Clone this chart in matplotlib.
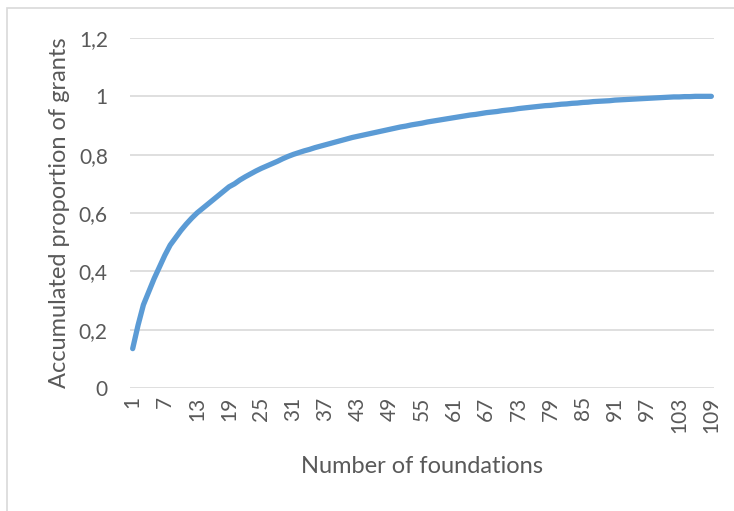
import matplotlib
matplotlib.use("Agg")
import matplotlib.pyplot as plt
from matplotlib.patches import Rectangle
from matplotlib.ticker import FuncFormatter

plt.rcParams['font.family'] = ['Lato', 'DejaVu Sans']

# foundations ranked by size, cumulative share of all grants
foundations = list(range(1, 110))
share = [0.135, 0.215, 0.285, 0.33, 0.375, 0.415, 0.455, 0.49, 0.515, 0.54,
         0.562, 0.582, 0.60, 0.615, 0.63, 0.645, 0.66, 0.675, 0.69, 0.70,
         0.713, 0.724, 0.734, 0.744, 0.753, 0.761, 0.769, 0.777, 0.786, 0.794,
         0.801, 0.807, 0.813, 0.818, 0.824, 0.829, 0.834, 0.839, 0.844, 0.849,
         0.854, 0.859, 0.863, 0.867, 0.871, 0.875, 0.879, 0.883, 0.887, 0.891,
         0.895, 0.898, 0.902, 0.905, 0.908, 0.912, 0.915, 0.918, 0.921, 0.924,
         0.927, 0.930, 0.933, 0.936, 0.938, 0.941, 0.944, 0.946, 0.948, 0.951,
         0.953, 0.955, 0.958, 0.960, 0.962, 0.964, 0.966, 0.968, 0.969, 0.971,
         0.973, 0.974, 0.976, 0.977, 0.979, 0.980, 0.982, 0.983, 0.984, 0.985,
         0.987, 0.988, 0.989, 0.990, 0.991, 0.992, 0.993, 0.994, 0.995, 0.996,
         0.997, 0.998, 0.998, 0.999, 0.999, 1.0, 1.0, 1.0, 1.0]
tick_labels = foundations[::6]
y_ticks = [0, 0.2, 0.4, 0.6, 0.8, 1.0, 1.2]

text_col = '#595959'
grid_col = '#D9D9D9'

fig = plt.figure(figsize=(7.34, 5.11), dpi=100)
ax = fig.add_axes([130/734, 1 - 388/511, 584/734, 350/511])

# chart area border
fig.patches.append(Rectangle((7/734, -0.1), 1.1, 1 - 8/511 + 0.1,
                             transform=fig.transFigure, fill=False,
                             edgecolor=grid_col, linewidth=1.2))

ax.plot(foundations, share, color='#5B9BD5', linewidth=3.8,
        solid_capstyle='round', solid_joinstyle='round', zorder=3)

ax.set_xlim(0.5, 109.5)
ax.set_ylim(0, 1.2)
ax.set_yticks(y_ticks)
ax.yaxis.set_major_formatter(FuncFormatter(
    lambda v, p: '0' if v == 0 else ('1' if abs(v - 1) < 1e-9 else f'{v:.1f}'.replace('.', ','))))
ax.set_xticks(tick_labels)
ax.set_xticklabels([str(t) for t in tick_labels], rotation=90)

ax.grid(axis='y', color=grid_col, linewidth=1.2)
ax.set_axisbelow(True)
for s in ax.spines.values():
    s.set_visible(False)
ax.tick_params(length=0, colors=text_col, labelsize=15)
ax.tick_params(axis='y', pad=16)
ax.tick_params(axis='x', pad=6)

ax.set_xlabel('Number of foundations', color=text_col, fontsize=17, labelpad=17)
ax.set_ylabel('Accumulated proportion of grants', color=text_col, fontsize=17, labelpad=6)

fig.savefig('out.png', dpi=100)
